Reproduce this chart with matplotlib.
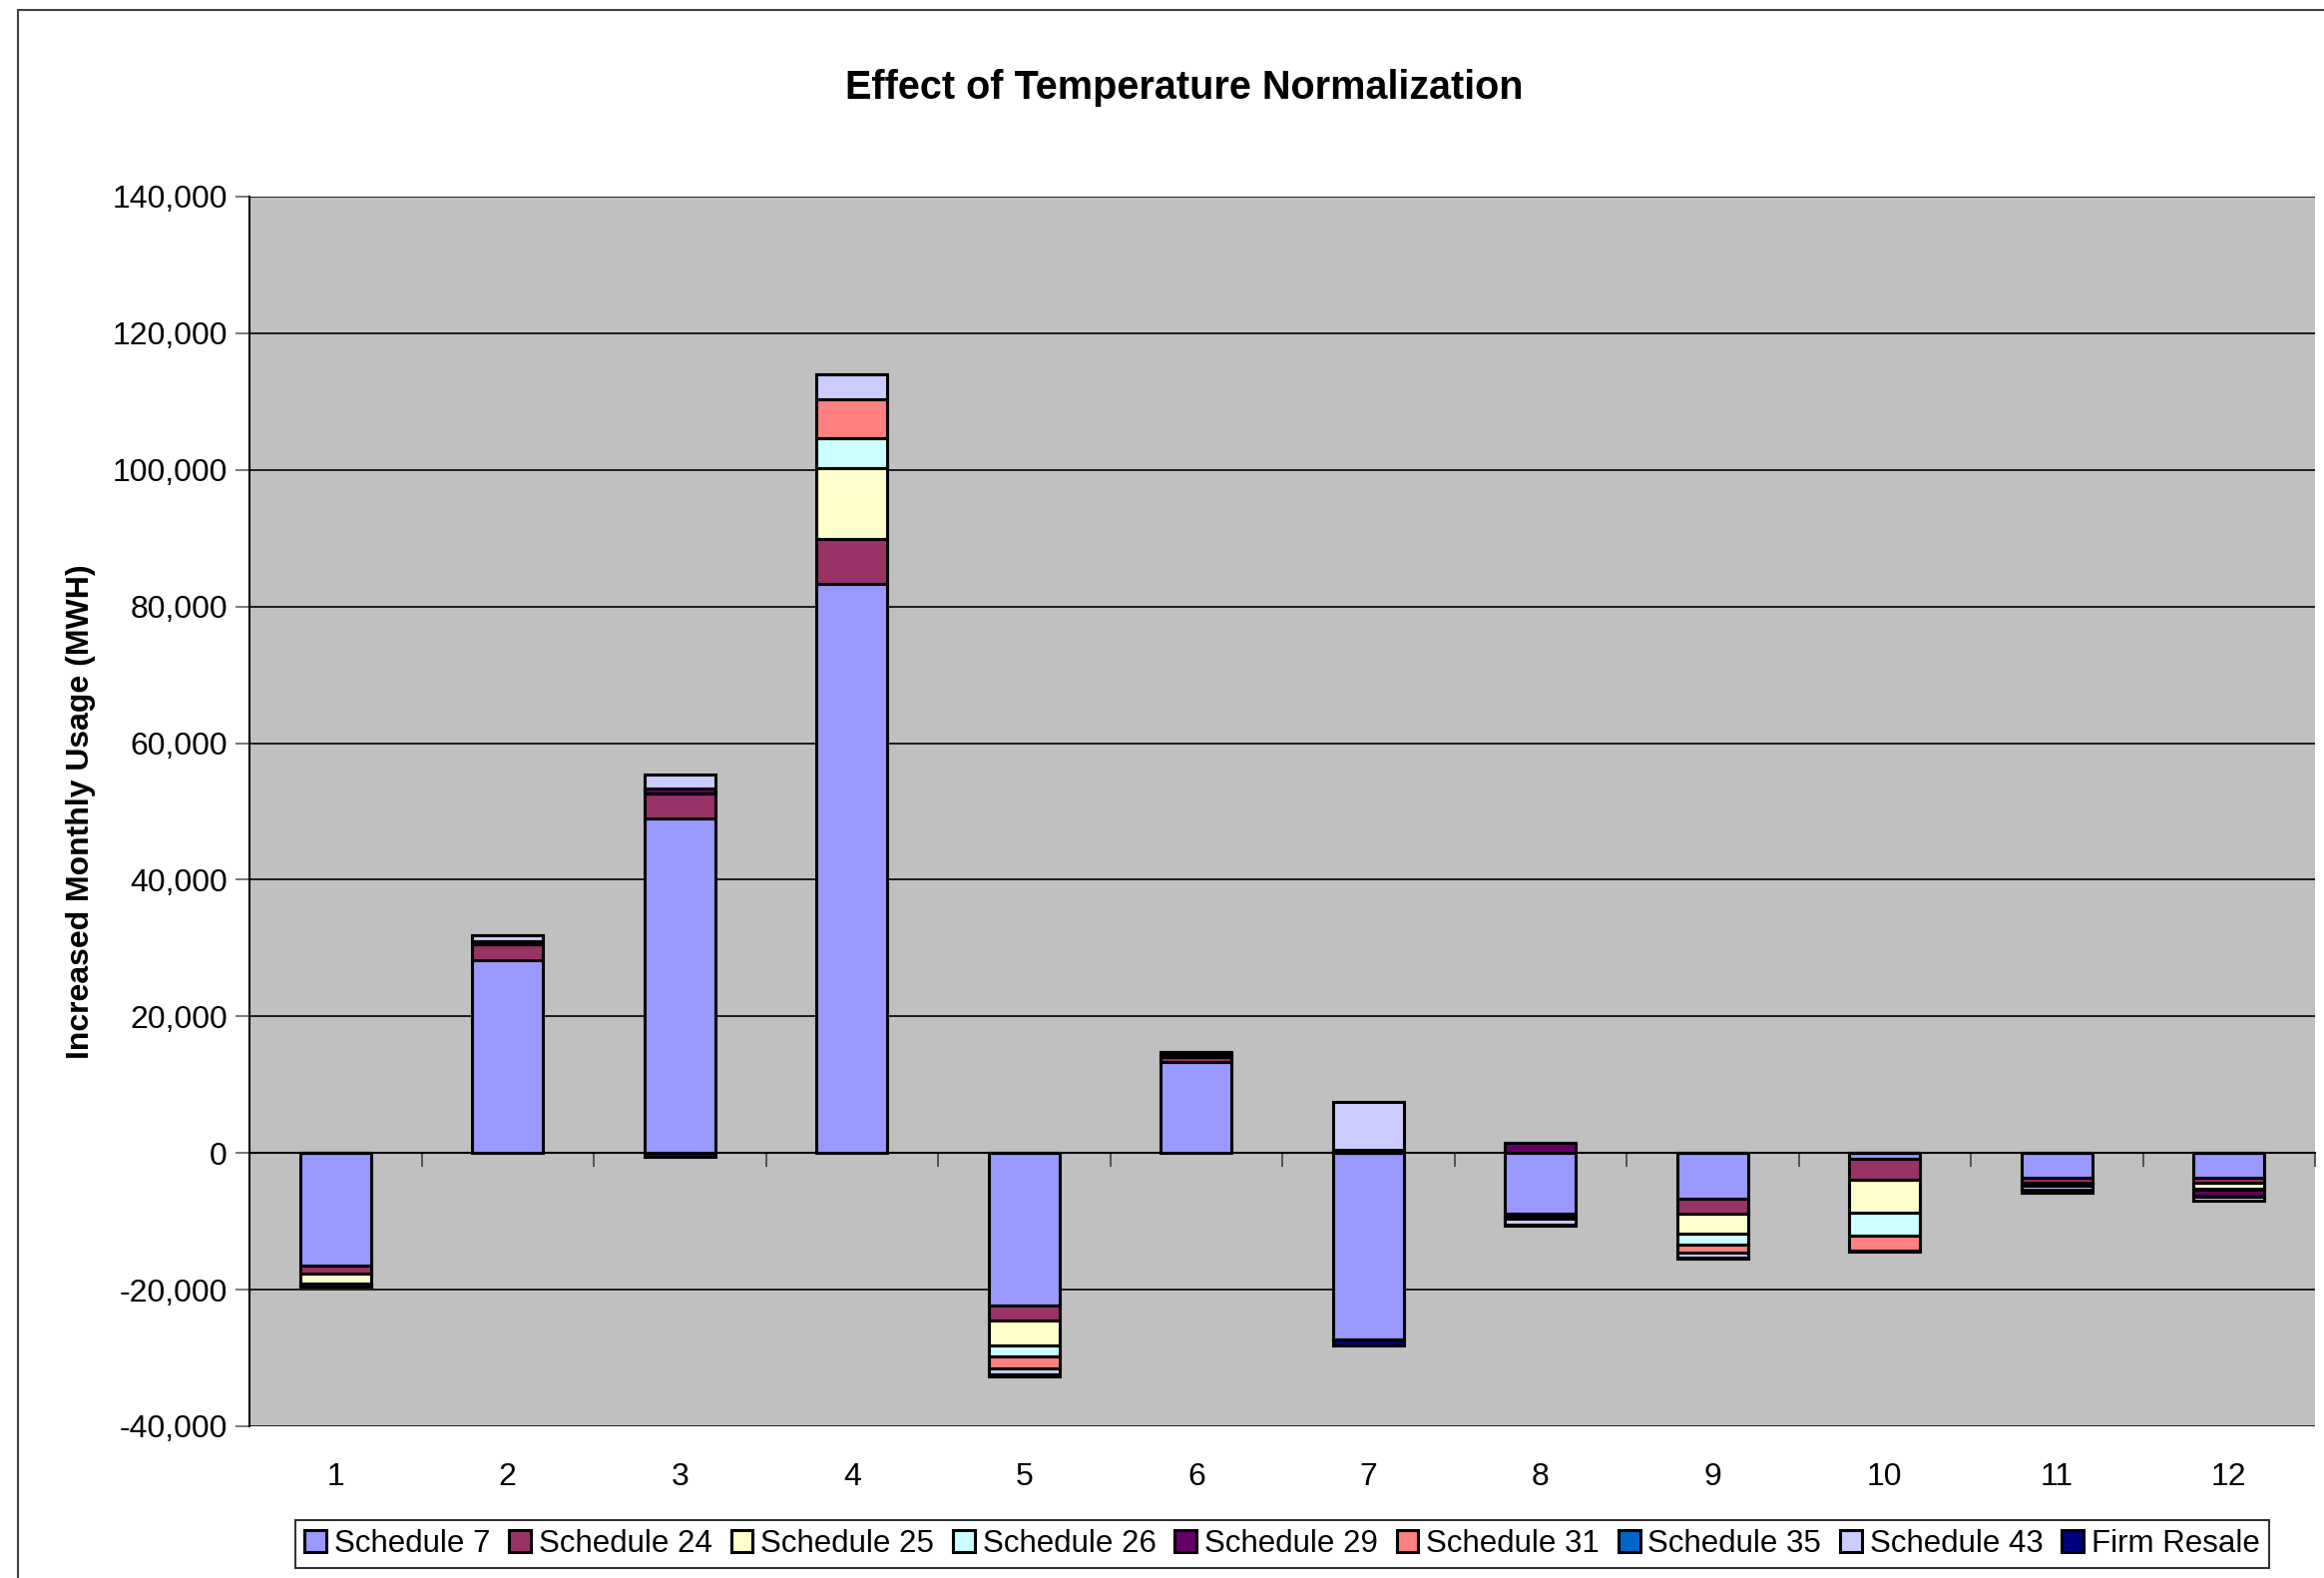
import matplotlib.pyplot as plt
import matplotlib.patches as mpatches
import numpy as np

plt.rcParams['font.family'] = ['Liberation Sans', 'DejaVu Sans']

months = [str(m) for m in range(1, 13)]
series_names = ["Schedule 7", "Schedule 24", "Schedule 25", "Schedule 26", "Schedule 29",
                "Schedule 31", "Schedule 35", "Schedule 43", "Firm Resale"]
colors = ["#9999FF", "#993366", "#FFFFCC", "#CCFFFF", "#660066",
          "#FF8080", "#0066CC", "#CCCCFF", "#000080"]

sched7 = [-16450, 28300, 49000, 83300, -22380, 13300, -27250, -8950, -6710, -880, -3650, -3550]
sched24 = [-1170, 2200, 3650, 6620, -2190, 700, 0, -300, -2140, -3020, -630, -730]
sched25 = [-1460, 0, 0, 10410, -3650, 0, 0, -100, -2920, -4870, -200, -880]
sched26 = [-150, 0, 0, 4280, -1600, 0, 0, -100, -1600, -3310, -150, -150]
sched29 = [0, 450, 700, 0, 0, 350, 400, 1460, 0, 0, 0, -900]
sched31 = [-100, 0, 0, 5740, -1650, 0, 0, -100, -1220, -2140, -200, -150]
sched35 = [0, 0, 0, 0, 0, 0, 0, 0, 0, 0, 0, 0]
sched43 = [0, 880, 2100, 3650, -880, 450, 7150, -1000, -730, 0, -580, -580]
firm_resale = [-150, 0, -500, 0, -300, 0, -900, -100, -100, -250, -400, 0]

data = [sched7, sched24, sched25, sched26, sched29, sched31, sched35, sched43, firm_resale]

fig = plt.figure(figsize=(23.29, 15.81), dpi=100)
ax = fig.add_axes([250 / 2329, 1 - 1429 / 1581, (2320 - 250) / 2329, (1429 - 197) / 1581])
ax.set_facecolor("#C0C0C0")

# outer chart frame
fig.patches.append(mpatches.Rectangle((18 / 2329, -0.01), 1.0, 1 - 10 / 1581 + 0.01,
                                      transform=fig.transFigure, fill=False,
                                      edgecolor="#404040", lw=1.5, zorder=-1))

x = np.arange(len(months))
pos_bottom = np.zeros(len(months))
neg_bottom = np.zeros(len(months))
for name, vals, c in zip(series_names, data, colors):
    v = np.array(vals, dtype=float)
    bottoms = np.where(v >= 0, pos_bottom, neg_bottom)
    ax.bar(x, v, bottom=bottoms, width=0.41, color=c, edgecolor="black", linewidth=2.2,
           label=name, zorder=3)
    pos_bottom += np.where(v > 0, v, 0)
    neg_bottom += np.where(v < 0, v, 0)

ax.set_xlim(-0.5, 11.5)
ax.set_ylim(-40000, 140000)
ax.set_yticks(np.arange(-40000, 140001, 20000))
ax.yaxis.set_major_formatter(plt.FuncFormatter(lambda v, p: f"{int(v):,}"))
ax.yaxis.grid(True, color="black", lw=1.2, zorder=0)
ax.tick_params(axis="y", labelsize=23, length=10, width=1.2, color="#606060", pad=6)

for s in ["top", "right"]:
    ax.spines[s].set_visible(False)
ax.spines["left"].set_color("black")
ax.spines["left"].set_linewidth(1.5)
ax.spines["bottom"].set_position(("data", 0))
ax.spines["bottom"].set_color("black")
ax.spines["bottom"].set_linewidth(1.5)
ax.spines["bottom"].set_zorder(2)
ax.set_xticks(np.arange(-0.5, 11.6, 1.0))
ax.set_xticklabels([])
ax.tick_params(axis="x", length=10, width=1.2, color="#404040", direction="out")

sec = ax.secondary_xaxis("bottom")
sec.set_xticks(x)
sec.set_xticklabels(months)
sec.tick_params(length=0, labelsize=23, pad=26)
sec.spines["bottom"].set_visible(False)

ax.set_ylabel("Increased Monthly Usage (MWH)", fontsize=23, fontweight="bold", labelpad=12)
fig.text(1187 / 2329, 1 - 88 / 1581, "Effect of Temperature Normalization",
         fontsize=28.5, fontweight="bold", ha="center", va="center")

leg = fig.legend(loc="center", bbox_to_anchor=(1285 / 2329, 1 - 1547 / 1581), ncol=9,
                 fontsize=22.5, frameon=True, fancybox=False, edgecolor="black",
                 handlelength=0.7, handleheight=0.7, handletextpad=0.25,
                 columnspacing=0.6, borderpad=0.3)
leg.get_frame().set_linewidth(1.5)

fig.savefig("out.png", dpi=100)
